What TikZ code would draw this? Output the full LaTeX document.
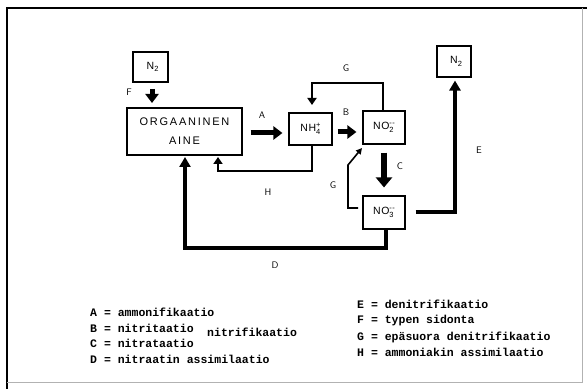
\documentclass[tikz,border=0pt]{standalone}
\usepackage{fontspec}
\usetikzlibrary{arrows.meta}
\newfontfamily\labfont[LetterSpace=16]{Liberation Sans}
\newfontfamily\chemfont[LetterSpace=6]{Liberation Sans}
\newfontfamily\legfont{Liberation Mono Bold}
\newcommand{\ssp}[2]{\makebox[0pt][l]{\raisebox{-0.5ex}{\fontsize{7.5}{7.5}\selectfont #1}}\raisebox{0.8ex}{\fontsize{7.5}{7.5}\selectfont #2}}
\tikzset{
  box/.style={draw, line width=1.1pt, inner sep=0pt, minimum width=#1},
  chem/.style={font=\fontsize{10.5}{11}\selectfont\chemfont},
  fat/.style={line width=5pt, -{Triangle[length=9pt,width=13pt]}},
  thick4/.style={line width=3.6pt, -{Triangle[length=10pt,width=11pt]}},
  thin3/.style={line width=2.4pt, -{Triangle[length=7pt,width=9pt]}},
  thin2/.style={line width=1.6pt, -{Triangle[length=6pt,width=6pt]}},
  lbl/.style={font=\fontsize{9.5}{10}\selectfont\sffamily},
  leg/.style={anchor=west, inner sep=0pt, font=\fontsize{11.5}{12}\selectfont\legfont}
}
\begin{document}
\begin{tikzpicture}[x=1pt,y=-1pt]
\useasboundingbox (0,0) rectangle (587,390);
% frame
\draw[line width=2pt] (7,389) -- (7,8) -- (587,8);
\draw[line width=0.8pt, black!30] (582,8) -- (582,382) -- (7,382);
% boxes
\node[box=35pt, minimum height=30pt, chem] (n2a) at (150.5,67) {N\ssp{2}{}};
\node[box=115pt, minimum height=47pt, align=center, font=\fontsize{11}{19}\selectfont\labfont] (org) at (184.5,131.5) {ORGAANINEN\\AINE};
\node[box=43pt, minimum height=32pt, chem] (nh4) at (310.5,129) {NH\ssp{4}{+}};
\node[box=42pt, minimum height=33pt, chem] (no2) at (384,127.5) {NO\ssp{2}{--}};
\node[box=42pt, minimum height=33pt, chem] (no3) at (384,212.5) {NO\ssp{3}{--}};
\node[box=34pt, minimum height=31pt, chem] (n2b) at (454,61.5) {N\ssp{2}{}};
% helper coordinates
\coordinate (fS) at (152,89);
\coordinate (fE) at (152,103);
\coordinate (gt1) at (383,83);
\coordinate (gt2) at (312,83);
\coordinate (gtE) at (312,105);
\coordinate (gl0) at (358,208);
\coordinate (gl1) at (348,208);
\coordinate (gl2) at (348,165);
\coordinate (glE) at (362,148);
\coordinate (e1) at (455,212);
\coordinate (hS) at (312,145);
\coordinate (h1) at (312,171);
\coordinate (h2) at (218,171);
\coordinate (hE) at (218,157);
\coordinate (d1) at (386,248);
\coordinate (d2) at (185,248);
\coordinate (dE) at (185,157);
% arrows
\draw[fat] (fS) -- (fE);
\draw[fat] ([xshift=8pt]org.east |- 0,133) -- ([xshift=-6pt]nh4.west |- 0,133);
\draw[fat] ([xshift=5pt]nh4.east |- 0,132) -- ([xshift=-6pt]no2.west |- 0,132);
\draw[line width=6pt, -{Triangle[length=10pt,width=16pt]}] ([yshift=-8pt]no2.south) -- ([yshift=8pt]no3.north);
\draw[thin3] (no2.north -| gt1) -- (gt1) -- (gt2) -- (gtE);
\draw[thin2] (gl0) -- (gl1) -- (gl2) -- (glE);
\draw[thick4] ([xshift=10pt]no3.east |- e1) -- (e1) -- ([yshift=-3pt]n2b.south -| e1);
\draw[thin3] (hS) -- (h1) -- (h2) -- (hE);
\draw[thick4] (no3.south -| d1) -- (d1) -- (d2) -- (dE);
% labels
\node[lbl] (lF) at (129,92) {F};
\node[lbl] (lA) at (262,115) {A};
\node[lbl] (lG1) at (346,68) {G};
\node[lbl] (lB) at (346,112) {B};
\node[lbl] (lC) at (400,166) {C};
\node[lbl] (lG2) at (333,185) {G};
\node[lbl] (lE) at (479,150) {E};
\node[lbl] (lH) at (268,192) {H};
\node[lbl] (lD) at (275,265) {D};
% legend
\node[leg] (la) at (90,312) {A = ammonifikaatio};
\node[leg] (lb) at (90,328) {B = nitritaatio};
\node[leg] (lnit) at (207,332) {nitrifikaatio};
\node[leg] (lc) at (90,343) {C = nitrataatio};
\node[leg] (ld) at (90,359) {D = nitraatin assimilaatio};
\node[leg] (le) at (357,304) {E = denitrifikaatio};
\node[leg] (lf) at (357,321) {F = typen sidonta};
\node[leg] (lg) at (357,337) {G = epäsuora denitrifikaatio};
\node[leg] (lh) at (357,352) {H = ammoniakin assimilaatio};
\end{tikzpicture}
\end{document}
